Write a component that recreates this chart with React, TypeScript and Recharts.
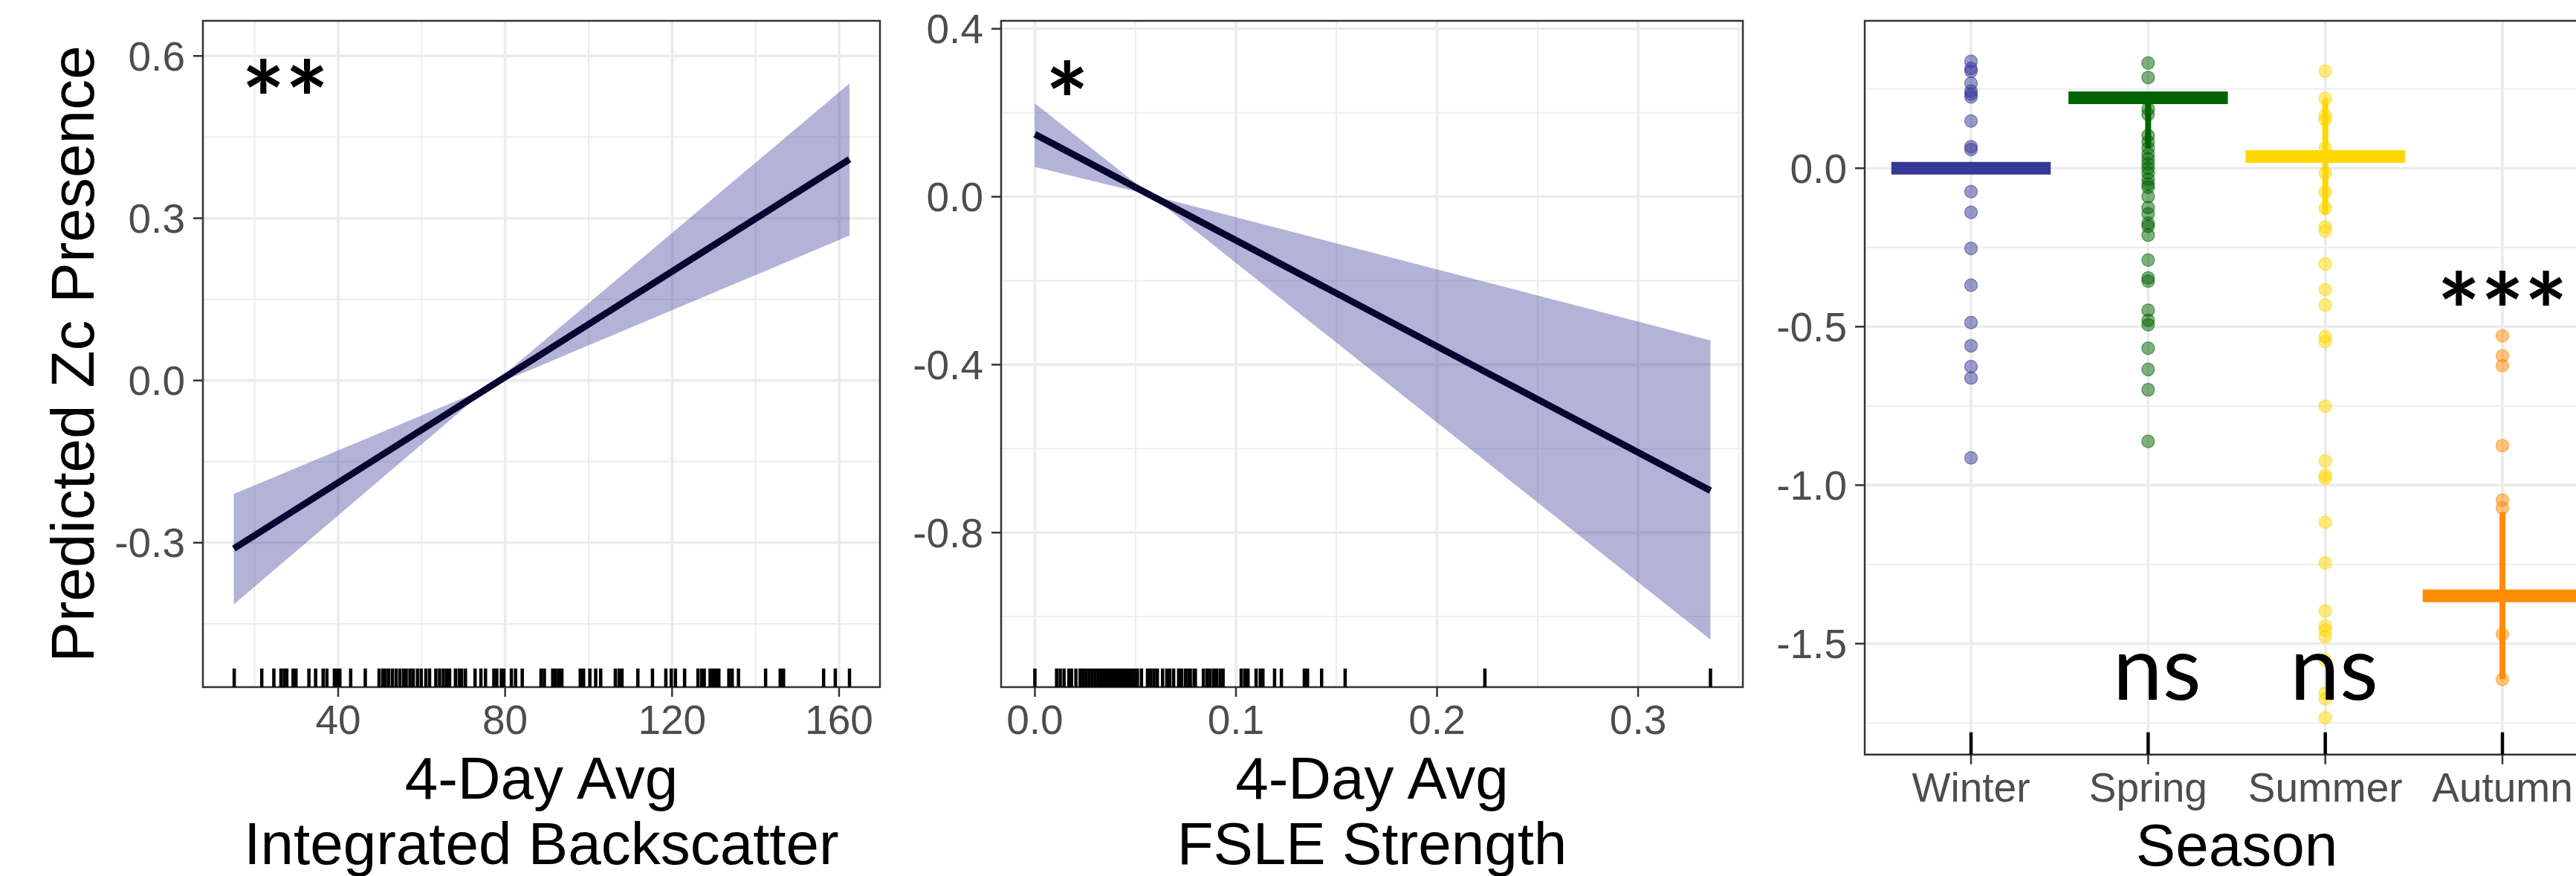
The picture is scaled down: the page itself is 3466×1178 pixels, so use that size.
import React from "react";
import {
  Area,
  CartesianGrid,
  ComposedChart,
  Line,
  ReferenceArea,
  Scatter,
  XAxis,
  YAxis,
} from "recharts";

const FONT = "'Liberation Sans', Arial, sans-serif";
const NOTE_FONT = "Lato, 'Open Sans', sans-serif";

// ---- panel 1: integrated backscatter ----
const ibsLine = [
  { x: 15, y: -0.311 },
  { x: 162.5, y: 0.409 },
];
const ibsBand = [
  { x: 15, band: [-0.414, -0.21] },
  { x: 76, band: [-0.013, -0.013] },
  { x: 162.5, band: [0.268, 0.549] },
];
const ibsRug = [
  15.1, 21.7, 24.6, 26.3, 27.1, 27.7, 29.2, 29.9, 33.0, 34.6, 36.4, 37.3, 39.1,
  39.8, 40.4, 43.0, 46.5, 49.8, 50.7, 51.3, 52.1, 53.0, 53.9, 54.8, 55.7, 56.3,
  57.2, 58.0, 59.0, 59.9, 61.0, 61.9, 63.4, 64.3, 65.2, 66.0, 66.7, 68.1, 69.0,
  69.6, 70.5, 72.8, 74.2, 75.3, 77.3, 78.0, 79.1, 79.7, 81.5, 82.5, 84.1, 88.6,
  89.4, 91.4, 92.1, 92.9, 93.6, 98.0, 98.8, 100.3, 101.7, 102.9, 106.4, 107.3,
  108.0, 111.8, 115.3, 118.5, 119.8, 120.8, 123.0, 126.2, 127.1, 127.7, 129.1,
  129.8, 130.5, 131.2, 133.6, 134.4, 135.9, 142.4, 145.9, 146.7, 156.3, 159.1,
  162.5,
];
const ibsDomainX = [7.6, 169.8];
const ibsDomainY = [-0.567, 0.665];
const ibsTicksX = [40, 80, 120, 160];
const ibsMinorX = [20, 60, 100, 140];
const ibsTicksY = [-0.3, 0, 0.3, 0.6];
const ibsMinorY = [-0.45, -0.15, 0.15, 0.45];
const ibsNote = [{ x: 27.3, y: 0.559, t: "**" }];

// ---- panel 2: FSLE strength ----
const fsleLine = [
  { x: 0, y: 0.149 },
  { x: 0.336, y: -0.7 },
];
const fsleBand = [
  { x: 0, band: [0.071, 0.2225] },
  { x: 0.0575, band: [0.004, 0.004] },
  { x: 0.336, band: [-1.055, -0.342] },
];
const fsleRug = [
  0.0, 0.0108, 0.0126, 0.0145, 0.0169, 0.0182, 0.0204, 0.0225, 0.024, 0.0255,
  0.027, 0.0285, 0.03, 0.0315, 0.033, 0.0345, 0.036, 0.0375, 0.039, 0.0405,
  0.042, 0.0435, 0.045, 0.0465, 0.048, 0.0495, 0.051, 0.053, 0.056, 0.0576,
  0.0592, 0.0609, 0.0635, 0.0656, 0.0671, 0.069, 0.0715, 0.073, 0.0749, 0.0765,
  0.0773, 0.0792, 0.0798, 0.0838, 0.0856, 0.0872, 0.089, 0.0903, 0.0921, 0.0936,
  0.1026, 0.1044, 0.106, 0.11, 0.1121, 0.1134, 0.1192, 0.1226, 0.134, 0.1356,
  0.1426, 0.1543, 0.2238, 0.336,
];
const fsleDomainX = [-0.0168, 0.3521];
const fsleDomainY = [-1.168, 0.419];
const fsleTicksX = [0, 0.1, 0.2, 0.3];
const fsleMinorX = [0.05, 0.15, 0.25, 0.35];
const fsleTicksY = [-0.8, -0.4, 0, 0.4];
const fsleMinorY = [-1.0, -0.6, -0.2, 0.2];
const fsleNote = [{ x: 0.016, y: 0.279, t: "*" }];

// ---- panel 3: season ----
const seasons = ["Winter", "Spring", "Summer", "Autumn"];
const seasonColors = ["#383898", "#006400", "#FFD700", "#FF8C00"];
const winterVals = [
  0.337, 0.315, 0.306, 0.268, 0.243, 0.234, 0.225, 0.149, 0.068, 0.059, -0.074,
  -0.139, -0.253, -0.369, -0.487, -0.56, -0.626, -0.662, -0.914,
];
const springVals = [
  0.332, 0.286, 0.187, 0.17, 0.103, 0.083, 0.064, 0.044, 0.029, 0.014, 0.0,
  -0.015, -0.035, -0.05, -0.06, -0.089, -0.124, -0.144, -0.173, -0.183, -0.211,
  -0.29, -0.346, -0.356, -0.448, -0.48, -0.494, -0.568, -0.635, -0.699, -0.862,
];
const summerVals = [
  0.306, 0.22, 0.167, 0.153, 0.064, -0.015, -0.075, -0.126, -0.185, -0.198,
  -0.302, -0.383, -0.432, -0.531, -0.547, -0.751, -0.924, -0.969, -0.978,
  -1.117, -1.245, -1.397, -1.445, -1.458, -1.479, -1.552, -1.656, -1.674,
  -1.734,
];
const autumnVals = [-0.529, -0.592, -0.623, -0.875, -1.047, -1.072, -1.47, -1.613];
const seasonMeans = [0.0, 0.222, 0.037, -1.349];
const seasonLo = [0.0, 0.064, -0.146, -1.612];
const seasonHi = [0.0, 0.222, 0.22, -1.085];
const seasonDomainX = [0.4, 4.6];
const seasonDomainY = [-1.85, 0.465];
const seasonTicksX = [1, 2, 3, 4];
const seasonTicksY = [-1.5, -1, -0.5, 0];
const seasonMinorY = [-1.75, -1.25, -0.75, -0.25, 0.25];
const seasonNotes = [
  { x: 2.05, y: -1.6065, t: "ns" },
  { x: 3.05, y: -1.6065, t: "ns" },
];
const starNotes = [{ x: 4, y: -0.385, t: "***" }];

const tickProps = {
  tick: { fill: "#4D4D4D", fontSize: 55, fontFamily: FONT },
  tickSize: 13,
  tickMargin: 11,
  tickLine: { stroke: "#333333", strokeWidth: 2.5 },
  axisLine: false,
  interval: 0 as const,
};

const rugShape = (len: number) => (p: any) =>
  (
    <line x1={p.cx} x2={p.cx} y1={p.cy} y2={p.cy - len} stroke="#000" strokeWidth={4.5} />
  );

const noteShape = (size: number, dy: string, weight = 400) => (p: any) =>
  (
    <text
      x={p.cx}
      y={p.cy}
      dy={dy}
      textAnchor="middle"
      fontSize={size}
      fontWeight={weight}
      fontFamily={NOTE_FONT}
      fill="#000"
    >
      {p.payload.t}
    </text>
  );

const dotShape = (color: string) => (p: any) =>
  (
    <circle
      cx={p.cx}
      cy={p.cy}
      r={8.5}
      fill={color}
      fillOpacity={0.5}
      stroke={color}
      strokeOpacity={0.5}
      strokeWidth={1.5}
    />
  );

function EffectPanel({
  width,
  yWidth,
  band,
  line,
  rug,
  note,
  domX,
  domY,
  ticksX,
  minorX,
  ticksY,
  minorY,
  fmtX,
}: any) {
  return (
    <ComposedChart
      width={width}
      height={1178}
      margin={{ top: 28, right: 4, bottom: 0, left: 0 }}
    >
      <CartesianGrid
        stroke="#EBEBEB"
        strokeWidth={1.8}
        horizontalValues={minorY}
        verticalValues={minorX}
      />
      <CartesianGrid
        stroke="#EBEBEB"
        strokeWidth={3.6}
        horizontalValues={ticksY}
        verticalValues={ticksX}
      />
      <XAxis
        type="number"
        dataKey="x"
        domain={domX}
        ticks={ticksX}
        allowDataOverflow
        height={254}
        tickFormatter={fmtX}
        {...tickProps}
      />
      <YAxis
        type="number"
        dataKey="y"
        domain={domY}
        ticks={ticksY}
        allowDataOverflow
        width={yWidth}
        tickFormatter={(v: number) => v.toFixed(1)}
        {...tickProps}
      />
      <Area
        data={band}
        dataKey="band"
        type="linear"
        fill="#383898"
        fillOpacity={0.38}
        stroke="none"
        isAnimationActive={false}
      />
      <Line
        data={line}
        dataKey="y"
        type="linear"
        stroke="#050530"
        strokeWidth={9}
        dot={false}
        activeDot={false}
        isAnimationActive={false}
      />
      <Scatter
        data={rug.map((v: number) => ({ x: v, y: domY[0] }))}
        shape={rugShape(25)}
        isAnimationActive={false}
      />
      <Scatter data={note} shape={noteShape(138, "0.57em", 700)} isAnimationActive={false} />
      <ReferenceArea
        x1={domX[0]}
        x2={domX[1]}
        y1={domY[0]}
        y2={domY[1]}
        fill="none"
        stroke="#333333"
        strokeWidth={2.5}
      />
    </ComposedChart>
  );
}

function SeasonPanel() {
  const vals = [winterVals, springVals, summerVals, autumnVals];
  return (
    <ComposedChart
      width={1164}
      height={1178}
      margin={{ top: 28, right: 4, bottom: 0, left: 0 }}
    >
      <CartesianGrid
        stroke="#EBEBEB"
        strokeWidth={1.8}
        horizontalValues={seasonMinorY}
        vertical={false}
      />
      <CartesianGrid
        stroke="#EBEBEB"
        strokeWidth={3.6}
        horizontalValues={seasonTicksY}
        verticalValues={seasonTicksX}
      />
      <XAxis
        type="number"
        dataKey="x"
        domain={seasonDomainX}
        ticks={seasonTicksX}
        allowDataOverflow
        height={163.3}
        tickFormatter={(v: number) => seasons[v - 1]}
        {...tickProps}
      />
      <YAxis
        type="number"
        dataKey="y"
        domain={seasonDomainY}
        ticks={seasonTicksY}
        allowDataOverflow
        width={159}
        tickFormatter={(v: number) => v.toFixed(1)}
        {...tickProps}
      />
      {vals.map((arr, i) => (
        <Scatter
          key={"pts" + i}
          data={arr.map((v) => ({ x: i + 1, y: v }))}
          shape={dotShape(seasonColors[i])}
          isAnimationActive={false}
        />
      ))}
      {seasons.map((s, i) => (
        <Line
          key={"err" + s}
          data={[
            { x: i + 1, y: seasonLo[i] },
            { x: i + 1, y: seasonHi[i] },
          ]}
          dataKey="y"
          stroke={seasonColors[i]}
          strokeWidth={8}
          dot={false}
          activeDot={false}
          isAnimationActive={false}
        />
      ))}
      {seasons.map((s, i) => (
        <Line
          key={"mean" + s}
          data={[
            { x: i + 1 - 0.45, y: seasonMeans[i] },
            { x: i + 1 + 0.45, y: seasonMeans[i] },
          ]}
          dataKey="y"
          stroke={seasonColors[i]}
          strokeWidth={17}
          dot={false}
          activeDot={false}
          isAnimationActive={false}
        />
      ))}
      <Scatter
        data={seasonTicksX.map((v) => ({ x: v, y: seasonDomainY[0] }))}
        shape={rugShape(30)}
        isAnimationActive={false}
      />
      <Scatter data={seasonNotes} shape={noteShape(120, "0.25em")} isAnimationActive={false} />
      <Scatter data={starNotes} shape={noteShape(138, "0.57em", 700)} isAnimationActive={false} />
      <ReferenceArea
        x1={seasonDomainX[0]}
        x2={seasonDomainX[1]}
        y1={seasonDomainY[0]}
        y2={seasonDomainY[1]}
        fill="none"
        stroke="#333333"
        strokeWidth={2.5}
      />
    </ComposedChart>
  );
}

export default function App() {
  return (
    <div
      style={{
        position: "fixed",
        left: 0,
        top: 0,
        width: 3466,
        height: 1178,
        overflow: "hidden",
        background: "#fff",
        fontFamily: FONT,
      }}
    >
      <div style={{ position: "absolute", left: 0, top: 0 }}>
        <EffectPanel
          width={1188}
          yWidth={273}
          band={ibsBand}
          line={ibsLine}
          rug={ibsRug}
          note={ibsNote}
          domX={ibsDomainX}
          domY={ibsDomainY}
          ticksX={ibsTicksX}
          minorX={ibsMinorX}
          ticksY={ibsTicksY}
          minorY={ibsMinorY}
          fmtX={(v: number) => String(v)}
        />
      </div>
      <div style={{ position: "absolute", left: 1190, top: 0 }}>
        <EffectPanel
          width={1159}
          yWidth={157}
          band={fsleBand}
          line={fsleLine}
          rug={fsleRug}
          note={fsleNote}
          domX={fsleDomainX}
          domY={fsleDomainY}
          ticksX={fsleTicksX}
          minorX={fsleMinorX}
          ticksY={fsleTicksY}
          minorY={fsleMinorY}
          fmtX={(v: number) => v.toFixed(1)}
        />
      </div>
      <div style={{ position: "absolute", left: 2350, top: 0 }}>
        <SeasonPanel />
      </div>
      <svg
        width={3466}
        height={1178}
        style={{ position: "absolute", left: 0, top: 0, pointerEvents: "none" }}
      >
        <g fontFamily={FONT} fill="#000" textAnchor="middle">
          <text fontSize={82} transform="translate(126,476) rotate(-90)">
            Predicted Zc Presence
          </text>
          <g fontSize={80}>
            <text x={728.5} y={1073.6}>4-Day Avg</text>
            <text x={728.5} y={1162}>Integrated Backscatter</text>
            <text x={1846} y={1073.6}>4-Day Avg</text>
            <text x={1846} y={1162}>FSLE Strength</text>
            <text x={3009.5} y={1164}>Season</text>
          </g>
        </g>
      </svg>
    </div>
  );
}
